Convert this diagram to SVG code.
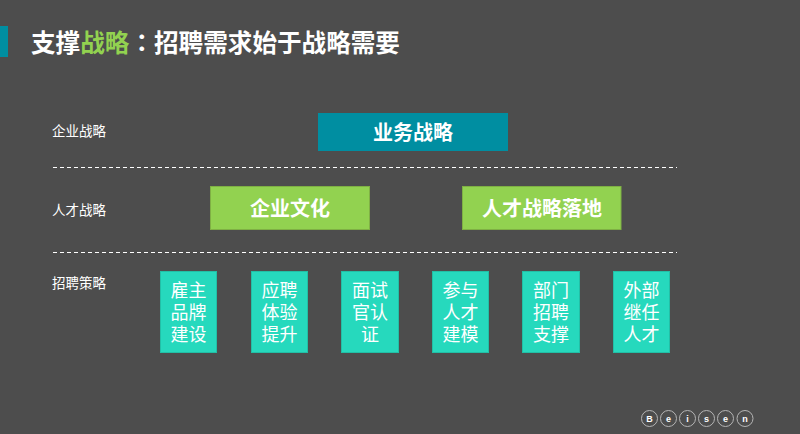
<svg xmlns="http://www.w3.org/2000/svg" width="800" height="434" viewBox="0 0 800 434">
<style>
text{font-family:"Noto Sans CJK SC","Noto Sans",sans-serif;text-anchor:middle}
.lab{font-size:13.500px;fill:#fff;text-anchor:start}
.big{font-size:20px;font-weight:700;fill:#fff}
.sm{font-size:18px;fill:#fff}
.teal{fill:#008ea1}
.green{fill:#92d250;stroke:#7fb044;stroke-width:1}
.cy{fill:#26d9bd;stroke:#22bfa6;stroke-width:1}
.dash{stroke:#fff;stroke-width:1;stroke-dasharray:4 3;fill:none}
.c{fill:none;stroke:#b5b5b5;stroke-width:1}
.l{font-size:9px;font-weight:700;fill:#fff;font-family:"Liberation Sans",sans-serif}
</style>
<rect width="800" height="434" fill="#4d4d4d"/>
<rect class="teal" x="0" y="26" width="8" height="31"/>
<text x="31" y="52" style="text-anchor:start;font-size:24.600px;font-weight:700;fill:#fff">支撑<tspan fill="#92d250">战略</tspan><tspan style="font-family:'Noto Sans CJK TC',sans-serif">：</tspan>招聘需求始于战略需要</text>
<text class="lab" x="52" y="136">企业战略</text>
<text class="lab" x="52" y="215">人才战略</text>
<text class="lab" x="52" y="288">招聘策略</text>
<g id="connectors">
<line class="dash" x1="53" y1="167.500" x2="677" y2="167.500"/>
<line class="dash" x1="53" y1="252.500" x2="677" y2="252.500"/>
</g>
<g id="n1"><rect class="teal" x="318" y="113" width="190" height="38"/><text class="big" x="413" y="140">业务战略</text></g>
<g id="n2"><rect class="green" x="210.500" y="186.500" width="159" height="43"/><text class="big" x="290" y="215.500">企业文化</text></g>
<g id="n3"><rect class="green" x="462.500" y="186.500" width="158.500" height="43"/><text class="big" x="542" y="215.500">人才战略落地</text></g>
<g id="n4"><rect class="cy" x="160.500" y="271.500" width="56" height="81"/><text class="sm"><tspan x="188.500" y="297">雇主</tspan><tspan x="188.500" y="319">品牌</tspan><tspan x="188.500" y="340.500">建设</tspan></text></g>
<g id="n5"><rect class="cy" x="251.500" y="271.500" width="56" height="81"/><text class="sm"><tspan x="279.500" y="297">应聘</tspan><tspan x="279.500" y="319">体验</tspan><tspan x="279.500" y="340.500">提升</tspan></text></g>
<g id="n6"><rect class="cy" x="341.500" y="271.500" width="57" height="81"/><text class="sm"><tspan x="370" y="297">面试</tspan><tspan x="370" y="319">官认</tspan><tspan x="370" y="340.500">证</tspan></text></g>
<g id="n7"><rect class="cy" x="432.500" y="271.500" width="56" height="81"/><text class="sm"><tspan x="460.500" y="297">参与</tspan><tspan x="460.500" y="319">人才</tspan><tspan x="460.500" y="340.500">建模</tspan></text></g>
<g id="n8"><rect class="cy" x="522.500" y="271.500" width="57" height="81"/><text class="sm"><tspan x="551" y="297">部门</tspan><tspan x="551" y="319">招聘</tspan><tspan x="551" y="340.500">支撑</tspan></text></g>
<g id="n9"><rect class="cy" x="613.500" y="271.500" width="56" height="81"/><text class="sm"><tspan x="641.500" y="297">外部</tspan><tspan x="641.500" y="319">继任</tspan><tspan x="641.500" y="340.500">人才</tspan></text></g>
<g id="logo">
<circle class="c" cx="649.500" cy="418.500" r="8"/><text class="l" x="649.500" y="422">B</text>
<circle class="c" cx="668.500" cy="418.500" r="8"/><text class="l" x="668.500" y="421.500">e</text>
<circle class="c" cx="687.500" cy="418.500" r="8"/><text class="l" x="687.500" y="422">i</text>
<circle class="c" cx="706.500" cy="418.500" r="8"/><text class="l" x="706.500" y="421.500">s</text>
<circle class="c" cx="725.500" cy="418.500" r="8"/><text class="l" x="725.500" y="421.500">e</text>
<circle class="c" cx="745" cy="418.500" r="8"/><text class="l" x="745" y="421.500">n</text>
</g>
</svg>
